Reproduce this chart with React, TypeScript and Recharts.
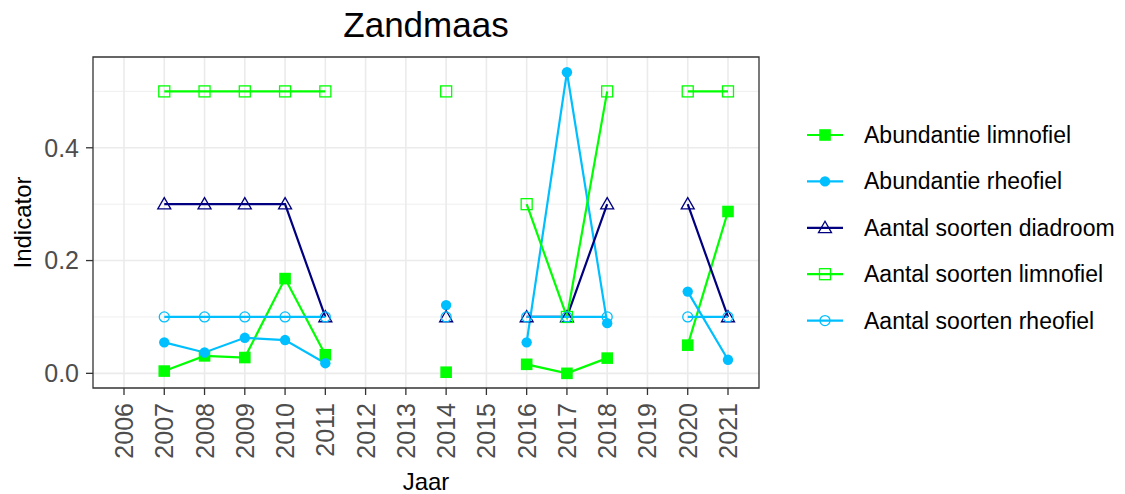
import React from 'react';
import { LineChart, Line, XAxis, YAxis, CartesianGrid, ReferenceArea } from 'recharts';

const years = [2006, 2007, 2008, 2009, 2010, 2011, 2012, 2013, 2014, 2015, 2016, 2017, 2018, 2019, 2020, 2021];
const abundantieLimnofiel = [null, 0.004, 0.031, 0.028, 0.168, 0.033, null, null, 0.002, null, 0.016, 0.0, 0.027, null, 0.05, 0.287];
const abundantieRheofiel = [null, 0.055, 0.037, 0.063, 0.059, 0.018, null, null, 0.121, null, 0.055, 0.534, 0.089, null, 0.145, 0.024];
const aantalDiadroom = [null, 0.3, 0.3, 0.3, 0.3, 0.1, null, null, 0.1, null, 0.1, 0.1, 0.3, null, 0.3, 0.1];
const aantalLimnofiel = [null, 0.5, 0.5, 0.5, 0.5, 0.5, null, null, 0.5, null, 0.3, 0.1, 0.5, null, 0.5, 0.5];
const aantalRheofiel = [null, 0.1, 0.1, 0.1, 0.1, 0.1, null, null, 0.1, null, 0.1, 0.1, 0.1, null, 0.1, 0.1];
const yTicks = [0, 0.2, 0.4];
const yMinor = [0.1, 0.3, 0.5];

const series = [
  { key: 'abLimno', name: 'Abundantie limnofiel', color: '#00FF00', shape: 'fsquare' },
  { key: 'abRheo', name: 'Abundantie rheofiel', color: '#00BFFF', shape: 'fcircle' },
  { key: 'asDiad', name: 'Aantal soorten diadroom', color: '#000080', shape: 'otriangle' },
  { key: 'asLimno', name: 'Aantal soorten limnofiel', color: '#00FF00', shape: 'osquare' },
  { key: 'asRheo', name: 'Aantal soorten rheofiel', color: '#00BFFF', shape: 'ocircle' },
];

const data = years.map((year, i) => ({
  year,
  abLimno: abundantieLimnofiel[i],
  abRheo: abundantieRheofiel[i],
  asDiad: aantalDiadroom[i],
  asLimno: aantalLimnofiel[i],
  asRheo: aantalRheofiel[i],
}));

const FONT = '"Liberation Sans", Arial, sans-serif';

function marker(shape: string, color: string, cx: number, cy: number, k?: any) {
  switch (shape) {
    case 'fsquare':
      return <rect key={k} x={cx - 5.8} y={cy - 5.8} width={11.6} height={11.6} fill={color} />;
    case 'fcircle':
      return <circle key={k} cx={cx} cy={cy} r={5.2} fill={color} />;
    case 'otriangle':
      return (
        <polygon key={k} points={`${cx},${cy - 6.5} ${cx - 6.5},${cy + 4.8} ${cx + 6.5},${cy + 4.8}`}
          fill="none" stroke={color} strokeWidth={1.3} />
      );
    case 'osquare':
      return <rect key={k} x={cx - 5.5} y={cy - 5.5} width={11} height={11} fill="none" stroke={color} strokeWidth={1.3} />;
    case 'ocircle':
      return <circle key={k} cx={cx} cy={cy} r={5} fill="none" stroke={color} strokeWidth={1.3} />;
  }
  return null;
}

const makeDot = (shape: string, color: string) => (props: any) => {
  const { cx, cy, value, index } = props;
  const k = `${shape}-${index}`;
  if (cx == null || cy == null || value == null || Number.isNaN(cy)) return <g key={k} />;
  return marker(shape, color, cx, cy, k);
};

const XTick = (props: any) => {
  const { x, y, payload } = props;
  return (
    <text x={x} y={y} transform={`rotate(-90, ${x}, ${y})`} textAnchor="end" dominantBaseline="central"
      fontSize={25} fill="#4D4D4D" fontFamily={FONT}>
      {payload.value}
    </text>
  );
};

export default function App() {
  const xDomain: [number, number] = [2005.23, 2021.77];
  const yDomain: [number, number] = [-0.026, 0.561];
  return (
    <div style={{ position: 'absolute', left: 0, top: 0, width: 1125, height: 494, background: '#fff', fontFamily: FONT }}>
      <LineChart width={1125} height={494} data={data} margin={{ top: 57, left: 0, right: 366, bottom: 0 }}>
        <CartesianGrid stroke="#EBEBEB" strokeWidth={0.8} vertical={false} horizontalValues={yMinor} />
        <CartesianGrid stroke="#EBEBEB" strokeWidth={1.6} verticalValues={years} horizontalValues={yTicks} />
        <XAxis type="number" dataKey="year" domain={xDomain} ticks={years} interval={0} allowDataOverflow
          height={106} axisLine={false} tickSize={7} tickMargin={8} tickLine={{ stroke: '#333333', strokeWidth: 1.3 }}
          tick={<XTick />} />
        <YAxis type="number" domain={yDomain} ticks={yTicks} allowDataOverflow width={93} axisLine={false}
          tickSize={7} tickMargin={7} tickLine={{ stroke: '#333333', strokeWidth: 1.3 }}
          tickFormatter={(v: number) => v.toFixed(1)}
          tick={{ fontSize: 25, fill: '#4D4D4D', fontFamily: FONT }} />
        {series.map((s) => (
          <Line key={`l-${s.key}`} dataKey={s.key} stroke={s.color} strokeWidth={2.2} dot={false} activeDot={false}
            isAnimationActive={false} connectNulls={false} type="linear" legendType="none" />
        ))}
        {series.map((s) => (
          <Line key={`d-${s.key}`} dataKey={s.key} stroke="none" strokeWidth={0} dot={makeDot(s.shape, s.color)}
            activeDot={false} isAnimationActive={false} connectNulls={false} type="linear" legendType="none" />
        ))}
        <ReferenceArea x1={xDomain[0]} x2={xDomain[1]} y1={yDomain[0]} y2={yDomain[1]} fill="none" fillOpacity={0}
          stroke="#333333" strokeWidth={1.3} ifOverflow="visible" />
      </LineChart>
      <svg width={1125} height={494} style={{ position: 'absolute', left: 0, top: 0, pointerEvents: 'none' }}>
        <text x={426} y={37} textAnchor="middle" fontSize={35} fill="#000" fontFamily={FONT}>Zandmaas</text>
        <text x={426} y={490} textAnchor="middle" fontSize={24} fill="#000" fontFamily={FONT}>Jaar</text>
        <text x={31} y={222.5} textAnchor="middle" fontSize={24} fill="#000" fontFamily={FONT}
          transform="rotate(-90, 31, 222.5)">Indicator</text>
        {series.map((s, i) => {
          const cy = 135 + i * 46.4;
          return (
            <g key={s.key}>
              <line x1={807} x2={843} y1={cy} y2={cy} stroke={s.color} strokeWidth={2.2} />
              {marker(s.shape, s.color, 825, cy)}
              <text x={864} y={cy + 8} fontSize={23} fill="#000" fontFamily={FONT}>{s.name}</text>
            </g>
          );
        })}
      </svg>
    </div>
  );
}
